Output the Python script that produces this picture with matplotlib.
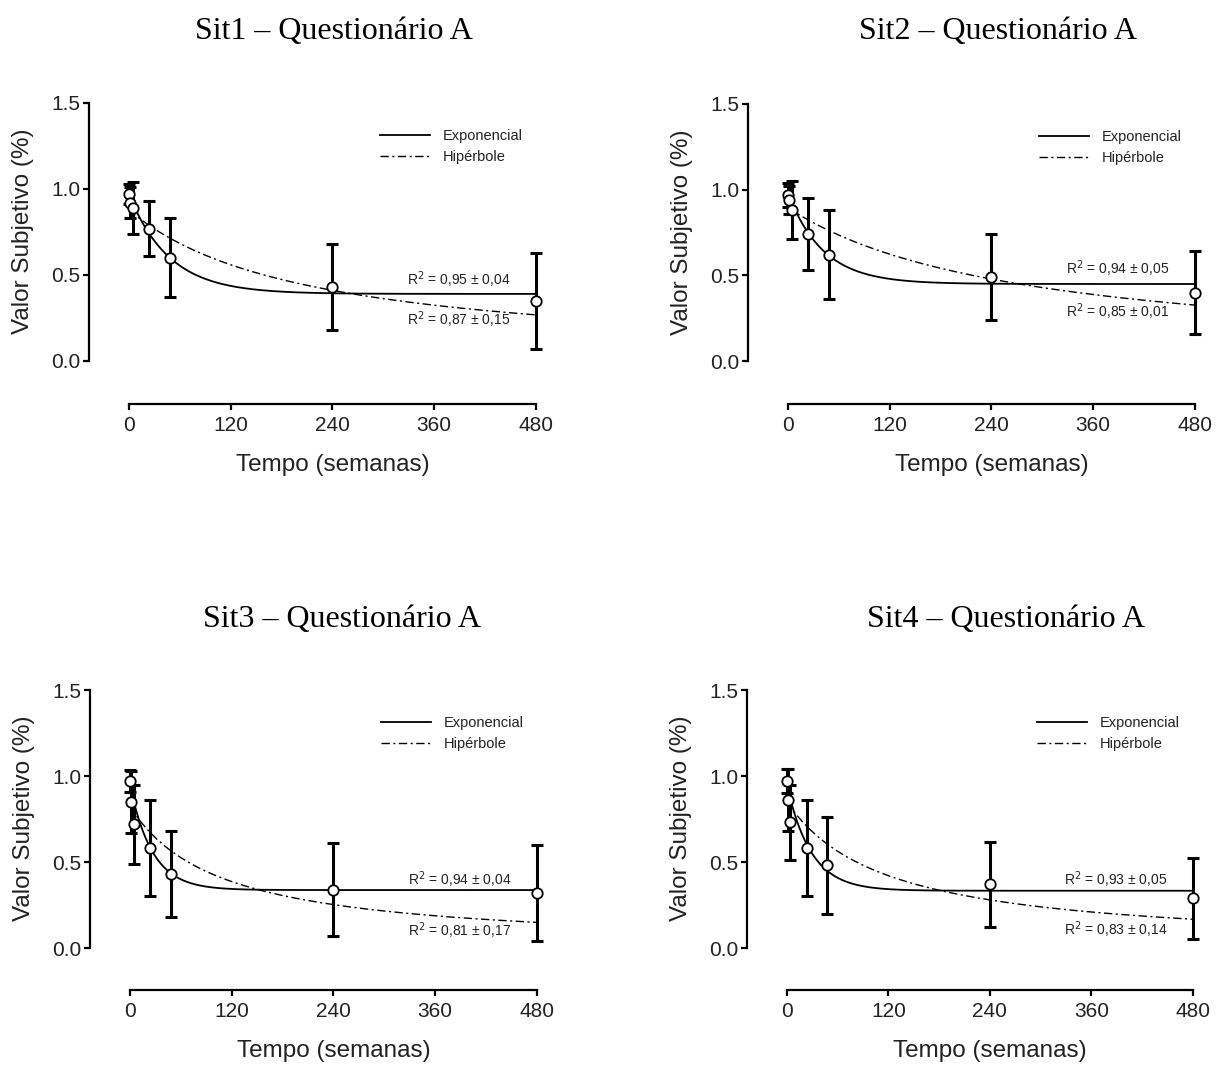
import numpy as np
import matplotlib
matplotlib.use("Agg")
import matplotlib.pyplot as plt
from matplotlib.lines import Line2D

plt.rcParams['font.family'] = ['Liberation Sans', 'DejaVu Sans']

# ---------------- data ----------------
titles = ["Sit1 – Questionário A", "Sit2 – Questionário A",
          "Sit3 – Questionário A", "Sit4 – Questionário A"]
delays = [0.14, 1, 4.3, 24, 48, 240, 480]   # weeks

means_sit1 = [0.97, 0.92, 0.89, 0.77, 0.60, 0.43, 0.35]
err_sit1 = [0.06, 0.09, 0.15, 0.16, 0.23, 0.25, 0.28]
means_sit2 = [0.97, 0.94, 0.88, 0.74, 0.62, 0.49, 0.40]
err_sit2 = [0.07, 0.08, 0.17, 0.21, 0.26, 0.25, 0.24]
means_sit3 = [0.97, 0.85, 0.72, 0.58, 0.43, 0.34, 0.32]
err_sit3 = [0.065, 0.18, 0.23, 0.28, 0.25, 0.27, 0.28]
means_sit4 = [0.97, 0.86, 0.73, 0.58, 0.48, 0.37, 0.29]
err_sit4 = [0.07, 0.18, 0.22, 0.28, 0.28, 0.245, 0.235]

# exponential fit: Y0, plateau, k   ; hyperbolic fit: A, k
exp_params = [(0.97, 0.39, 0.021), (0.98, 0.45, 0.024),
              (0.95, 0.337, 0.038), (0.95, 0.333, 0.035)]
hyp_params = [(0.878, 0.00474), (0.895, 0.00362),
              (0.823, 0.00942), (0.85, 0.0085)]

r2_exp = ["0,95 ± 0,04", "0,94 ± 0,05", "0,94 ± 0,04", "0,93 ± 0,05"]
r2_hyp = ["0,87 ± 0,15", "0,85 ± 0,01", "0,81 ± 0,17", "0,83 ± 0,14"]
r2_exp_y = [0.473, 0.537, 0.395, 0.395]
r2_hyp_y = [0.239, 0.286, 0.099, 0.105]

xticks = [0, 120, 240, 360, 480]
yticks = [0.0, 0.5, 1.0, 1.5]
xlabel = "Tempo (semanas)"
ylabel = "Valor Subjetivo (%)"

means = [means_sit1, means_sit2, means_sit3, means_sit4]
errs = [err_sit1, err_sit2, err_sit3, err_sit4]

# ---------------- layout ----------------
W, H = 1216, 1065
fig = plt.figure(figsize=(W / 100, H / 100), dpi=100)

# (spine x px, x480 px, top px (y=1.5), x-spine px)
boxes = [(89, 536, 103, 404), (748, 1195, 104, 404),
         (90, 537, 690, 990), (747, 1193, 690, 990)]
title_pos = [(334, 32), (998, 32), (342, 619), (1006, 619)]
XMIN = -47.0
dash = (0, (6, 2.5, 1.5, 2.5))

for i in range(4):
    xl, xr, yt, yb = boxes[i]
    ax = fig.add_axes([xl / W, 1 - yb / H, (xr - xl) / W, (yb - yt) / H])
    ax.set_xlim(XMIN, 480)
    ybot = -0.25 if i < 2 else -0.244
    ax.set_ylim(ybot, 1.5)

    for s in ['top', 'right']:
        ax.spines[s].set_visible(False)
    ax.spines['left'].set_bounds(0, 1.5)
    ax.spines['bottom'].set_bounds(0, 480)
    for s in ['left', 'bottom']:
        ax.spines[s].set_linewidth(1.6)

    ax.set_xticks(xticks)
    ax.set_yticks(yticks)
    ax.set_xticklabels([str(v) for v in xticks])
    ax.set_yticklabels([f"{v:.1f}" for v in yticks])
    ax.tick_params(axis='both', which='major', labelsize=15, length=4.5,
                   width=1.6, direction='out', color='black',
                   labelcolor='#222222')
    ax.tick_params(axis='y', pad=1.5)
    ax.tick_params(axis='x', pad=4)

    ax.set_xlabel(xlabel, fontsize=17.5, color='#222222')
    ax.xaxis.set_label_coords(((xl + xr + 40) / 2 - xl) / (xr - xl),
                              -61 / (yb - yt))
    ax.xaxis.label.set_va('center')
    ax.set_ylabel(ylabel, fontsize=17.5, color='#222222')
    ax.yaxis.set_label_coords(-66 / (xr - xl),
                              (yb - (yt + 128.5)) / (yb - yt))
    ax.yaxis.label.set_va('center')

    # fitted curves
    t = np.linspace(0, 480, 800)
    y0, p, k = exp_params[i]
    ax.plot(t, p + (y0 - p) * np.exp(-k * t), color='black', lw=1.3,
            clip_on=False, zorder=2)
    a, kh = hyp_params[i]
    ax.plot(t, a / (1 + kh * t), color='black', lw=1.0,
            linestyle=dash, clip_on=False, zorder=2)

    # data with error bars
    ax.errorbar(delays, means[i], yerr=errs[i], fmt='none', ecolor='black',
                elinewidth=2.2, capsize=4, capthick=2.2, clip_on=False,
                zorder=3)
    ax.plot(delays, means[i], 'o', markersize=7.5, markerfacecolor='white',
            markeredgecolor='black', markeredgewidth=1.3, clip_on=False,
            zorder=4)

    # R2 annotations
    ax.text(328, r2_exp_y[i], "R$^2$ = " + r2_exp[i], fontsize=10,
            va='center', ha='left', color='#222222')
    ax.text(328, r2_hyp_y[i], "R$^2$ = " + r2_hyp[i], fontsize=10,
            va='center', ha='left', color='#222222')

    # legend
    handles = [Line2D([], [], color='black', lw=1.3),
               Line2D([], [], color='black', lw=1.0, linestyle=dash)]
    ax.legend(handles, ["Exponencial", "Hipérbole"], loc='upper left',
              bbox_to_anchor=(296, 1.35), bbox_transform=ax.transData,
              frameon=False, fontsize=10.5, handlelength=3.4,
              handletextpad=0.9, labelspacing=0.5, borderpad=0,
              borderaxespad=0, labelcolor='#222222')

    tx, ty = title_pos[i]
    fig.text(tx / W, 1 - ty / H, titles[i], fontsize=23,
             family=['Liberation Serif', 'DejaVu Serif'],
             ha='center', va='center')

fig.savefig("out.png", dpi=100, facecolor='white')
